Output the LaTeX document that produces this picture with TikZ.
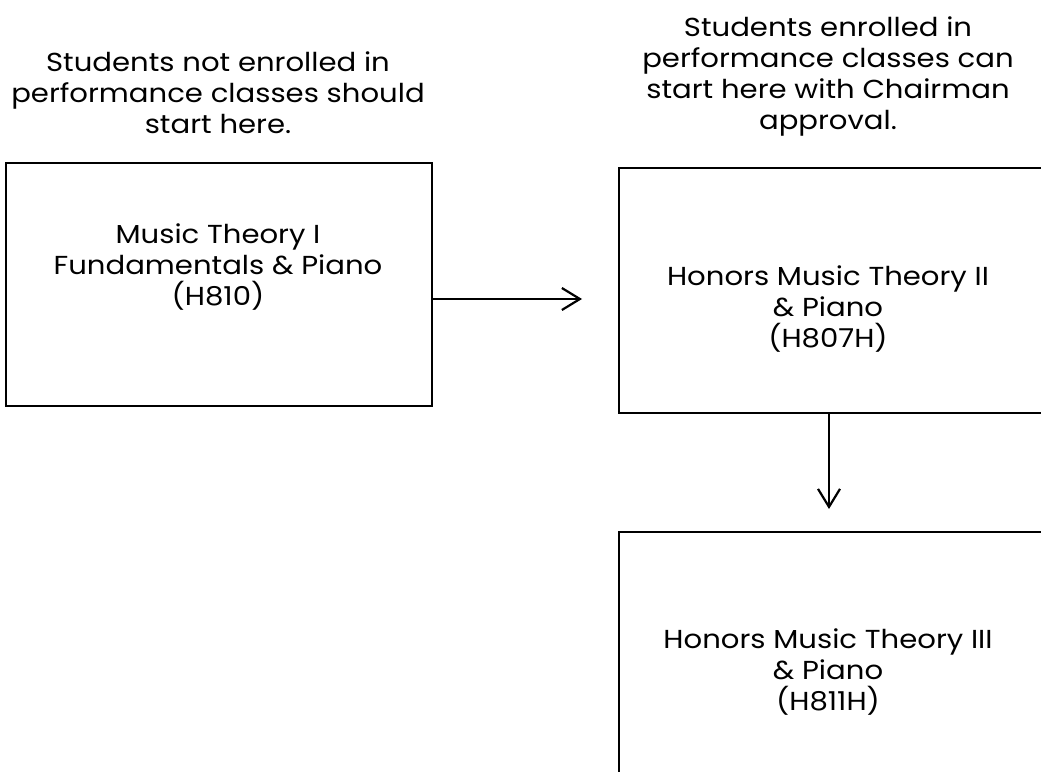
\documentclass[tikz,border=0pt]{standalone}
\usepackage{fontspec}
\setmainfont{Poppins}[FakeStretch=1.12]
\usetikzlibrary{arrows.meta}
\begin{document}
\begin{tikzpicture}[x=1pt,y=-1pt,
  box/.style={draw=black,line width=2.2pt,rectangle,inner sep=0pt,anchor=north west},
  lbl/.style={align=center,font=\fontsize{26}{31}\selectfont,inner sep=0pt},
  conn/.style={line width=2.2pt,-{Straight Barb[length=18pt,width=22pt,line width=2.2pt]}}]
\useasboundingbox (0,0) rectangle (1041,771);
\node[lbl] (t1) at (218,93) {Students not enrolled in\\performance classes should\\start here.};
\node[lbl] (t2) at (828,76) {Students enrolled in\\performance classes can\\start here with Chairman\\approval.};
\node[box,minimum width=426pt,minimum height=243pt] (b1) at (5,162) {};
\node[box,minimum width=450pt,minimum height=245pt] (b2) at (618,167) {};
\node[box,minimum width=450pt,minimum height=260pt] (b3) at (618,531) {};
\node[lbl] (l1) at (218,267) {Music Theory I\\Fundamentals \& Piano\\(H810)};
\node[lbl] (l2) at (828,309) {Honors Music Theory II\\\& Piano\\(H807H)};
\node[lbl] (l3) at (828,672) {Honors Music Theory III\\\& Piano\\(H811H)};
\coordinate (a1) at (582,299);
\coordinate (a2) at (829,509);
\draw[conn] (b1.east |- a1) -- (a1);
\draw[conn] (b2.south -| a2) -- (a2);
\end{tikzpicture}
\end{document}
